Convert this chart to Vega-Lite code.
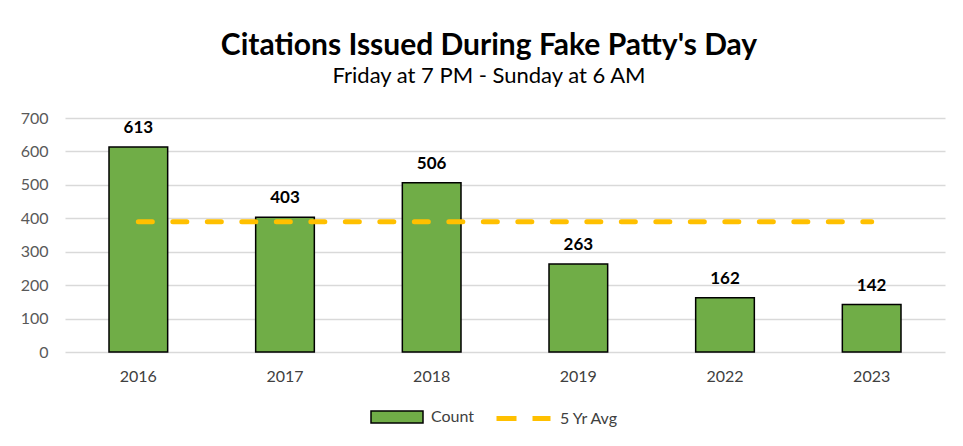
{
  "$schema": "https://vega.github.io/schema/vega-lite/v6.json",
  "width": 880,
  "height": 234,
  "autosize": "none",
  "padding": {"left": 65, "top": 118, "right": 18, "bottom": 94},
  "background": "white",
  "title": {
    "text": "Citations Issued During Fake Patty's Day",
    "subtitle": "Friday at 7 PM - Sunday at 6 AM",
    "anchor": "middle",
    "dx": -16,
    "offset": 23,
    "font": "Lato",
    "fontSize": 30,
    "fontWeight": "bold",
    "color": "#000000",
    "subtitleFont": "Lato",
    "subtitleFontSize": 22,
    "subtitleColor": "#000000",
    "subtitlePadding": 5
  },
  "data": {
    "values": [
      {"year": "2016", "count": 613, "avg": 389.4, "bar": "Count", "line": "5 Yr Avg"},
      {"year": "2017", "count": 403, "avg": 389.4, "bar": "Count", "line": "5 Yr Avg"},
      {"year": "2018", "count": 506, "avg": 389.4, "bar": "Count", "line": "5 Yr Avg"},
      {"year": "2019", "count": 263, "avg": 389.4, "bar": "Count", "line": "5 Yr Avg"},
      {"year": "2022", "count": 162, "avg": 389.4, "bar": "Count", "line": "5 Yr Avg"},
      {"year": "2023", "count": 142, "avg": 389.4, "bar": "Count", "line": "5 Yr Avg"}
    ]
  },
  "encoding": {
    "x": {
      "field": "year",
      "type": "ordinal",
      "scale": {"paddingInner": 0.6, "paddingOuter": 0.3},
      "axis": {
        "title": null,
        "labelAngle": 0,
        "domain": false,
        "ticks": false,
        "grid": false,
        "labelFont": "Lato",
        "labelFontSize": 16,
        "labelColor": "#404040",
        "labelPadding": 16
      }
    }
  },
  "layer": [
    {
      "mark": {"type": "bar", "stroke": "black", "strokeWidth": 1.5},
      "encoding": {
        "y": {
          "field": "count",
          "type": "quantitative",
          "scale": {"domain": [0, 700], "nice": false},
          "axis": {"values": [0, 100, 200, 300, 400, 500, 600, 700]}
        },
        "fill": {
          "field": "bar",
          "type": "nominal",
          "scale": {"range": ["#70AD47"]},
          "legend": {
            "orient": "none",
            "legendX": 305,
            "legendY": 272,
            "direction": "horizontal",
            "title": null,
            "padding": 0,
            "symbolType": "M-1,-0.23H1V0.23H-1Z",
            "symbolSize": 2704,
            "symbolFillColor": "#70AD47",
            "symbolStrokeColor": "black",
            "symbolStrokeWidth": 1.5,
            "labelFont": "Lato",
            "labelFontSize": 16,
            "labelColor": "#404040",
            "labelOffset": 7
          }
        }
      }
    },
    {
      "mark": {"type": "text", "dy": -19, "font": "Lato", "fontSize": 17, "fontWeight": "bold", "color": "#000000", "baseline": "middle"},
      "encoding": {
        "y": {"field": "count", "type": "quantitative", "axis": {"values": [0, 100, 200, 300, 400, 500, 600, 700]}},
        "text": {"field": "count", "type": "quantitative"}
      }
    },
    {
      "mark": {"type": "line", "strokeWidth": 5, "strokeDash": [14, 20.5], "strokeCap": "round"},
      "encoding": {
        "y": {"field": "avg", "type": "quantitative", "axis": {"values": [0, 100, 200, 300, 400, 500, 600, 700]}},
        "stroke": {
          "field": "line",
          "type": "nominal",
          "scale": {"range": ["#FFC000"]},
          "legend": {
            "orient": "none",
            "legendX": 429,
            "legendY": 271,
            "direction": "horizontal",
            "title": null,
            "padding": 0,
            "symbolType": "stroke",
            "symbolSize": 2916,
            "symbolStrokeColor": "#FFC000",
            "symbolStrokeWidth": 5,
            "symbolDash": [20, 16],
            "labelFont": "Lato",
            "labelFontSize": 16,
            "labelColor": "#404040",
            "labelOffset": 7
          }
        }
      }
    }
  ],
  "config": {
    "view": {"stroke": null},
    "axisY": {
      "title": null,
      "domain": false,
      "ticks": false,
      "grid": true,
      "gridColor": "#D9D9D9",
      "gridWidth": 1.3,
      "labelOverlap": false,
      "labelFont": "Lato",
      "labelFontSize": 16,
      "labelColor": "#595959",
      "labelPadding": 17
    }
  }
}
